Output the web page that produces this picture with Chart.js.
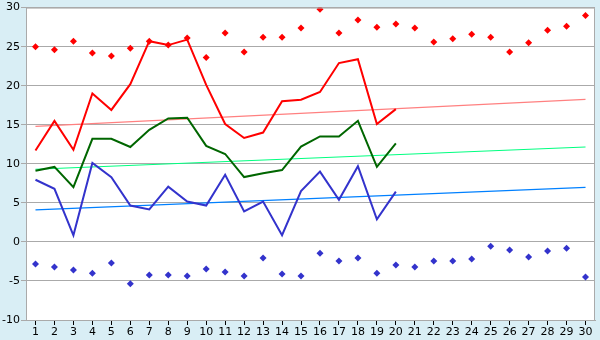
<!DOCTYPE html>
<html>
<head>
<meta charset="utf-8">
<script src="https://cdn.jsdelivr.net/npm/chart.js@4/dist/chart.umd.min.js"></script>
<style>
  html, body { margin: 0; padding: 0; background: #d9eef5; }
  #wrap { width: 600px; height: 340px; }
</style>
</head>
<body>
<div id="wrap"><canvas id="grafico" width="600" height="340"></canvas></div>
<script>
// dias do mes
const dias = ['1','2','3','4','5','6','7','8','9','10','11','12','13','14','15',
              '16','17','18','19','20','21','22','23','24','25','26','27','28','29','30'];

// linhas (so os primeiros 20 dias)
const linhaVermelha = [11.7, 15.5, 11.8, 19.0, 16.9, 20.2, 25.7, 25.2, 25.9, 20.1,
                       15.1, 13.3, 14.0, 18.0, 18.2, 19.2, 22.9, 23.4, 15.1, 17.0];
const linhaVerde = [9.1, 9.6, 7.0, 13.2, 13.2, 12.15, 14.35, 15.8, 15.9, 12.3,
                    11.26, 8.3, 8.8, 9.2, 12.2, 13.5, 13.5, 15.5, 9.6, 12.6];
const linhaAzul = [7.96, 6.8, 0.85, 10.1, 8.3, 4.65, 4.15, 7.07, 5.17, 4.65,
                   8.6, 3.9, 5.17, 0.85, 6.5, 9.0, 5.4, 9.7, 2.88, 6.43];

// pontos soltos (30 dias)
const pontosVermelhos = [25.0, 24.6, 25.7, 24.2, 23.8, 24.8, 25.7, 25.2, 26.1, 23.6,
                         26.75, 24.3, 26.2, 26.2, 27.4, 29.8, 26.75, 28.4, 27.5, 27.9,
                         27.4, 25.6, 26.0, 26.6, 26.2, 24.3, 25.5, 27.1, 27.6, 29.0];
const pontosAzuis = [-2.84, -3.2, -3.6, -4.0, -2.7, -5.37, -4.23, -4.23, -4.36, -3.47,
                     -3.85, -4.36, -2.07, -4.1, -4.36, -1.44, -2.45, -2.07, -4.0, -2.96,
                     -3.2, -2.45, -2.45, -2.2, -0.55, -1.05, -1.94, -1.18, -0.8, -4.48];

// tendencias: valor no dia 1 e no dia 30
const tendVermelha = [14.8, 18.25];
const tendVerde = [9.3, 12.15];
const tendAzul = [4.1, 6.98];

// linha reta do dia 1 ao dia 30
function tendencia(ext) {
    const arr = dias.map(() => null);
    arr[0] = ext[0];
    arr[dias.length - 1] = ext[1];
    return arr;
}

const fundo = {
    id: 'fundo',
    beforeDraw(chart) {
        const ctx = chart.ctx;
        const a = chart.chartArea;
        ctx.save();
        ctx.fillStyle = '#d9eef5';
        ctx.fillRect(0, 0, chart.width, chart.height);
        ctx.fillStyle = '#ffffff';
        ctx.fillRect(a.left, a.top, a.right - a.left, a.bottom - a.top);
        ctx.restore();
    },
    afterDraw(chart) {
        const ctx = chart.ctx;
        const a = chart.chartArea;
        ctx.save();
        ctx.strokeStyle = '#aaaaaa';
        ctx.lineWidth = 1;
        ctx.beginPath();
        ctx.moveTo(a.left, a.top + 0.5);
        ctx.lineTo(a.right - 0.5, a.top + 0.5);
        ctx.lineTo(a.right - 0.5, a.bottom);
        ctx.stroke();
        ctx.restore();
    }
};

const linha = (dados, cor, largura) => ({
    type: 'line',
    data: dados,
    borderColor: cor,
    borderWidth: largura,
    pointRadius: 0,
    tension: 0,
    fill: false
});

const pontos = (dados, cor) => ({
    type: 'line',
    data: dados,
    showLine: false,
    pointStyle: 'rectRot',
    pointRadius: 3.5,
    pointBorderWidth: 0,
    pointBackgroundColor: cor,
    borderColor: cor
});

const dados = {
    labels: dias,
    datasets: [
        linha(linhaVermelha, '#ff0000', 2),
        linha(linhaVerde, '#006600', 2),
        linha(linhaAzul, '#3333cc', 2),
        pontos(pontosVermelhos, '#ff0000'),
        pontos(pontosAzuis, '#3333cc'),
        Object.assign(linha(tendencia(tendVermelha), '#ff8080', 1.2), { spanGaps: true }),
        Object.assign(linha(tendencia(tendVerde), '#00ff80', 1.2), { spanGaps: true }),
        Object.assign(linha(tendencia(tendAzul), '#0080ff', 1.2), { spanGaps: true })
    ]
};

const fonte = { family: 'DejaVu Sans', size: 11 };

var configuracao = {
    type: 'line',
    data: dados,
    options: {
        responsive: false,
        animation: false,
        layout: { padding: { top: 5, right: 5, left: 0, bottom: 0 } },
        plugins: { legend: { display: false }, tooltip: { enabled: false } },
        scales: {
            x: {
                offset: true,
                grid: { offset: false, drawOnChartArea: false, tickLength: 5, color: '#000000' },
                border: { color: '#aaaaaa' },
                ticks: { color: '#000000', font: fonte, padding: 1, maxRotation: 0, autoSkip: false },
                afterFit(s) { s.height = 20; }
            },
            y: {
                min: -10,
                max: 30,
                grid: { color: '#aaaaaa', tickLength: 5 },
                border: { color: '#aaaaaa' },
                ticks: { stepSize: 5, color: '#000000', font: fonte, padding: 1 },
                afterFit(s) { s.width = 26; }
            }
        }
    },
    plugins: [fundo]
};

var meuGrafico = new Chart(document.getElementById('grafico'), configuracao);
</script>
</body>
</html>
